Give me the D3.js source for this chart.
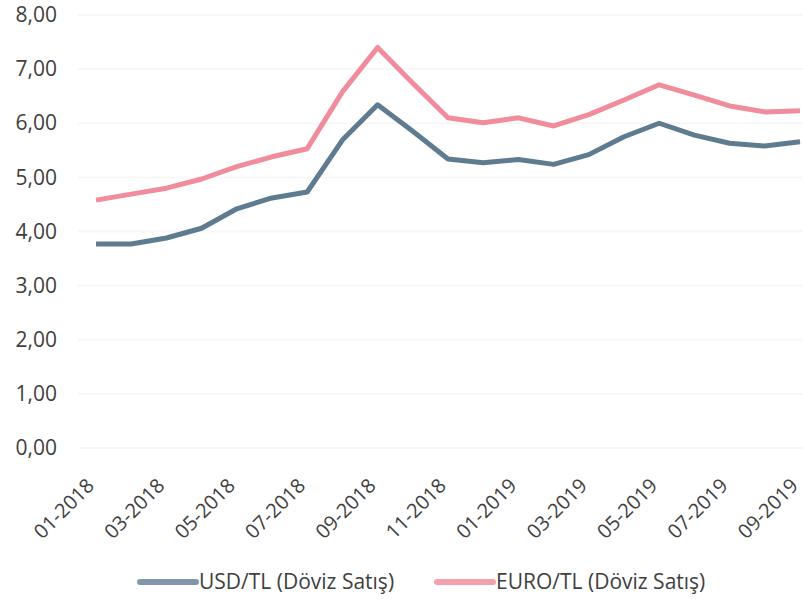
<!DOCTYPE html>
<html>
<head>
<meta charset="utf-8">
<script src="https://cdn.jsdelivr.net/npm/d3@7"></script>
<style>
  body { margin: 0; background: #fff; }
  text { font-family: "Open Sans", sans-serif; fill: #404040; }
</style>
</head>
<body>
<div id="chart"></div>
<script>
// months 01-2018 .. 09-2019
var months = ["01-2018","02-2018","03-2018","04-2018","05-2018","06-2018","07-2018",
  "08-2018","09-2018","10-2018","11-2018","12-2018","01-2019","02-2019","03-2019",
  "04-2019","05-2019","06-2019","07-2019","08-2019","09-2019"];

var usdValues  = [3.77,3.77,3.88,4.06,4.42,4.62,4.73,5.69,6.34,5.85,5.34,5.27,5.33,5.24,5.42,5.75,6.00,5.78,5.63,5.58,5.66];
var euroValues = [4.58,4.69,4.80,4.97,5.20,5.38,5.53,6.58,7.40,6.74,6.10,6.01,6.10,5.95,6.16,6.43,6.71,6.52,6.32,6.21,6.23];

var yTicks = [0,1,2,3,4,5,6,7,8];
var seriesNames = ["USD/TL (Döviz Satış)", "EURO/TL (Döviz Satış)"];
var colors = ["#5f7b90", "#f08c9c"];
var legendColors = ["#8097ab", "#f5a0ad"];

var W = 803, H = 600;
var svg = d3.select("#chart").append("svg")
    .attr("width", W)
    .attr("height", H);

var x = d3.scalePoint().domain(months).range([96, 800]);
var y = d3.scaleLinear().domain([0, 8]).range([448, 15]);

// faint gridlines
svg.append("g")
    .selectAll("line")
    .data(yTicks)
    .enter().append("line")
    .attr("x1", 78).attr("x2", W)
    .attr("y1", function(d) { return y(d); })
    .attr("y2", function(d) { return y(d); })
    .attr("stroke", "#f7f7f7")
    .attr("stroke-width", 2);

// y axis labels
var yAxis = d3.axisLeft(y).tickValues(yTicks).tickSize(0).tickPadding(0)
    .tickFormat(function(d) { return d3.format(".2f")(d).replace(".", ","); });
var gy = svg.append("g").attr("transform", "translate(57,0)").call(yAxis);
gy.select(".domain").remove();
gy.selectAll("text")
    .attr("font-family", "Open Sans, sans-serif")
    .attr("font-size", 21)
    .attr("fill", "#3d3d3d");

// x axis labels, every other month
var xAxis = d3.axisBottom(x)
    .tickValues(months.filter(function(d, i) { return i % 2 == 0; }))
    .tickSize(0);
var gx = svg.append("g").attr("transform", "translate(0,448)").call(xAxis);
gx.select(".domain").remove();
gx.selectAll("text")
    .attr("font-family", "Open Sans, sans-serif")
    .attr("font-size", 20)
    .attr("fill", "#3d3d3d")
    .attr("text-anchor", "end")
    .attr("x", 0).attr("y", 0)
    .attr("dy", "0.35em")
    .attr("transform", "translate(-6,34) rotate(-45)");

// lines
var line = d3.line()
    .x(function(d, i) { return x(months[i]); })
    .y(function(d) { return y(d); });

[usdValues, euroValues].forEach(function(vals, k) {
  svg.append("path")
    .datum(vals)
    .attr("fill", "none")
    .attr("stroke", colors[k])
    .attr("stroke-width", 5)
    .attr("stroke-linejoin", "round")
    .attr("d", line);
});

// legend
var legendX = [140, 437];
seriesNames.forEach(function(name, k) {
  var g = svg.append("g").attr("transform", "translate(" + legendX[k] + ",582)");
  g.append("line")
    .attr("x1", 0).attr("x2", 56)
    .attr("stroke", legendColors[k])
    .attr("stroke-width", 6)
    .attr("stroke-linecap", "round");
  g.append("text")
    .attr("x", 59)
    .attr("dy", "0.35em")
    .attr("font-size", 21)
    .attr("fill", "#3d3d3d")
    .text(name);
});
</script>
</body>
</html>
